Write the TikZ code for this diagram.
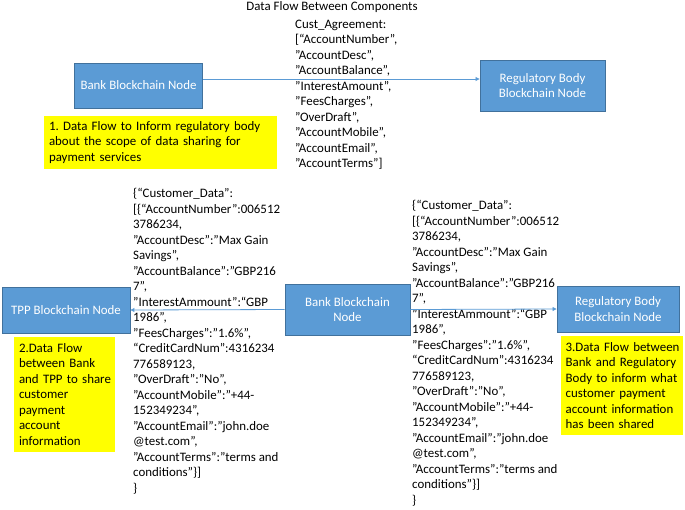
\documentclass[tikz,border=0pt]{standalone}
\usepackage{fontspec}
\setmainfont{Carlito}
\usetikzlibrary{arrows.meta}
\definecolor{boxblue}{HTML}{5B9BD5}
\definecolor{boxedge}{HTML}{41719C}
\definecolor{hl}{HTML}{FFFF00}
\newcommand\lineblock[1]{\vtop{\halign{##\hfil\cr#1\crcr}}}
\frenchspacing
\begin{document}
\begin{tikzpicture}[x=1pt,y=-1pt,
  every node/.style={font=\fontsize{12.9}{15.5}\selectfont\frenchspacing},
  bluebox/.style={draw=boxedge,line width=0.9pt,fill=boxblue,text=white,align=center,inner sep=0pt},
  notebox/.style={fill=hl,inner ysep=0pt,align=left},
  datatext/.style={anchor=base west,inner sep=0pt},
  flow/.style={draw=boxblue,line width=0.8pt,-{Triangle[length=4pt,width=4pt]}}]
\useasboundingbox (0,0) rectangle (685,509);

\node[inner sep=0pt] (title) at (332,7) {Data Flow Between Components};

% top row
\node[bluebox,minimum width=128pt,minimum height=45pt] (bank1) at (138.5,85.5) {Bank Blockchain Node};
\node[bluebox,minimum width=125pt,minimum height=51pt] (reg1) at (542.5,85.5) {Regulatory Body\\Blockchain Node};
\node[notebox,inner xsep=5pt,text width=223pt,minimum height=53pt] (note1) at (160.5,142.5)
  {\lineblock{1. Data Flow to Inform regulatory body\cr about the scope of data sharing for\cr payment services}};
\node[datatext] (cust) at (295,28) {\lineblock{%
Cust\_Agreement:\cr
[“AccountNumber”,\cr
”AccountDesc”,\cr
”AccountBalance”,\cr
”InterestAmount”,\cr
”FeesCharges”,\cr
”OverDraft”,\cr
”AccountMobile”,\cr
”AccountEmail”,\cr
”AccountTerms”]}};
\draw[flow] ([yshift=6.5pt]bank1.east) -- ([yshift=6.5pt]reg1.west);

% middle row
\node[bluebox,minimum width=128pt,minimum height=46pt] (tpp) at (66,310) {TPP Blockchain Node};
\node[bluebox,minimum width=125pt,minimum height=51pt] (bank2) at (347.5,309.5) {Bank Blockchain\\Node};
\node[bluebox,minimum width=122pt,minimum height=46pt] (reg2) at (618,309) {Regulatory Body\\Blockchain Node};
\node[notebox,inner xsep=5pt,text width=91pt,minimum height=115pt] (note2) at (64.5,394.5)
  {\lineblock{2.Data Flow\cr between Bank\cr and TPP to share\cr customer\cr payment\cr account\cr information}};
\node[notebox,inner xsep=4.7pt,text width=112.6pt,minimum height=99pt] (note3) at (622,385.5)
  {\lineblock{3.Data Flow between\cr Bank and Regulatory\cr Body to inform what\cr customer payment\cr account information\cr has been shared}};

\node[datatext] (data1) at (133,197.5) {\lineblock{%
\{“Customer\_Data”:\cr
[\{“AccountNumber”:006512\cr
3786234,\cr
”AccountDesc”:”Max Gain\cr
Savings”,\cr
”AccountBalance”:”GBP216\cr
7”,\cr
”InterestAmmount”:“GBP\cr
1986”,\cr
”FeesCharges”:”1.6\%”,\cr
“CreditCardNum”:4316234\cr
776589123,\cr
”OverDraft”:”No”,\cr
”AccountMobile”:”+44-\cr
152349234”,\cr
”AccountEmail”:”john.doe\cr
@test.com”,\cr
”AccountTerms”:”terms and\cr
conditions”\}]\cr
\}}};
\node[datatext] (data2) at (412,209.5) {\lineblock{%
\{“Customer\_Data”:\cr
[\{“AccountNumber”:006512\cr
3786234,\cr
”AccountDesc”:”Max Gain\cr
Savings”,\cr
”AccountBalance”:”GBP216\cr
7”,\cr
”InterestAmmount”:“GBP\cr
1986”,\cr
”FeesCharges”:”1.6\%”,\cr
“CreditCardNum”:4316234\cr
776589123,\cr
”OverDraft”:”No”,\cr
”AccountMobile”:”+44-\cr
152349234”,\cr
”AccountEmail”:”john.doe\cr
@test.com”,\cr
”AccountTerms”:”terms and\cr
conditions”\}]\cr
\}}};

\draw[flow] (bank2.west) -- (tpp.east);
\draw[flow] (bank2.east) -- (reg2.west);
\end{tikzpicture}
\end{document}
